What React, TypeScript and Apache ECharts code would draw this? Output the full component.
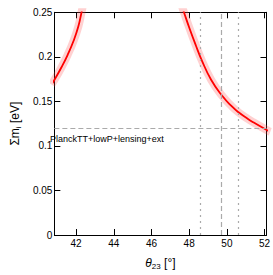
import React, { useEffect, useRef } from "react";
import * as echarts from "echarts";

const xTicks = [42, 44, 46, 48, 50, 52];
const leftTheta = [40.7, 40.85, 41.22, 41.55, 41.87, 42.12, 42.28, 42.4];
const leftSum = [0.169, 0.174, 0.188, 0.202, 0.218, 0.234, 0.249, 0.262];
const rightTheta = [47.6, 47.74, 48.0, 48.35, 48.65, 49.17, 49.76, 50.28, 50.6, 51.1, 51.4, 52.18, 52.3];
const rightSum = [0.258, 0.249, 0.233, 0.213, 0.197, 0.174, 0.156, 0.144, 0.138, 0.1305, 0.1265, 0.117, 0.1158];
const planckLimit = 0.12;
const centralTheta = 49.7;
const rangeTheta = [48.6, 50.6];
const planckLabel = "PlanckTT+lowP+lensing+ext";

const X_MIN = 40.85;
const X_MAX = 52.1;

export default function App() {
  const ref = useRef<HTMLDivElement>(null);
  useEffect(() => {
    const chart = echarts.init(ref.current!, null, { renderer: "svg" });
    const font = "Liberation Sans, Arial, sans-serif";
    const leftData = leftTheta.map((t, i) => [t, leftSum[i]]);
    const rightData = rightTheta.map((t, i) => [t, rightSum[i]]);
    const gray = "#aaaaaa";
    const mkX = (v: number, type: any) => ({
      xAxis: v,
      lineStyle: { color: gray, width: 1.2, type },
    });
    const bandSeries = (data: number[][]) => ({
      type: "line",
      data,
      smooth: true,
      symbol: "none",
      silent: true,
      lineStyle: { color: "rgba(255,70,70,0.25)", width: 8 },
      z: 2,
    });
    const lineSeries = (data: number[][]) => ({
      type: "line",
      data,
      smooth: true,
      symbol: "none",
      silent: true,
      lineStyle: { color: "#ff0000", width: 1.8 },
      z: 3,
    });
    chart.setOption({
      animation: false,
      grid: { left: 35, right: 5.3, top: 12.3, bottom: 28.3 },
      xAxis: [
        {
          type: "value",
          min: X_MIN,
          max: X_MAX,
          name: "{t|θ}{s|23}{n| [°]}",
          nameLocation: "middle",
          nameGap: 21,
          nameTextStyle: {
            rich: {
              t: { fontSize: 12, fontStyle: "italic", fontFamily: font, color: "#000", lineHeight: 14 },
              s: { fontSize: 8, fontFamily: font, color: "#000", verticalAlign: "bottom", lineHeight: 14, padding: [6, 0, 0, 0] },
              n: { fontSize: 12, fontFamily: font, color: "#000", lineHeight: 14 },
            },
          },
          splitLine: { show: false },
          axisLine: { show: true, onZero: false, lineStyle: { color: "#000", width: 1 } },
          axisTick: { show: true, inside: true, length: 6, customValues: xTicks, lineStyle: { color: "#000" } },
          axisLabel: { customValues: xTicks, fontSize: 10, fontFamily: font, color: "#000", margin: 3 },
        },
        {
          type: "value",
          position: "top",
          min: X_MIN,
          max: X_MAX,
          splitLine: { show: false },
          axisLine: { show: true, onZero: false, lineStyle: { color: "#000", width: 1 } },
          axisTick: { show: true, inside: true, length: 6, customValues: xTicks, lineStyle: { color: "#000" } },
          axisLabel: { show: false },
        },
      ],
      yAxis: [
        {
          type: "value",
          min: 0,
          max: 0.25,
          interval: 0.05,
          name: "{a|Σm}{s|i}{a| [eV]}",
          nameLocation: "middle",
          nameGap: 27,
          nameTextStyle: {
            rich: {
              a: { fontSize: 12, fontFamily: font, color: "#000", lineHeight: 14 },
              s: { fontSize: 8, fontFamily: font, color: "#000", verticalAlign: "bottom", lineHeight: 14, padding: [6, 0, 0, 0] },
            },
          },
          splitLine: { show: false },
          axisLine: { show: true, onZero: false, lineStyle: { color: "#000", width: 1 } },
          axisTick: { show: true, inside: true, length: 6, lineStyle: { color: "#000" } },
          axisLabel: { fontSize: 10, fontFamily: font, color: "#000", margin: 2 },
        },
        {
          type: "value",
          position: "right",
          min: 0,
          max: 0.25,
          interval: 0.05,
          splitLine: { show: false },
          axisLine: { show: true, onZero: false, lineStyle: { color: "#000", width: 1 } },
          axisTick: { show: true, inside: true, length: 6, lineStyle: { color: "#000" } },
          axisLabel: { show: false },
        },
      ],
      series: [
        {
          type: "line",
          data: [],
          silent: true,
          markLine: {
            silent: true,
            symbol: "none",
            label: { show: false },
            data: [
              { yAxis: planckLimit, lineStyle: { color: gray, width: 1.2, type: [5, 3] } },
              mkX(centralTheta, [5, 3]),
              mkX(rangeTheta[0], [2, 4]),
              mkX(rangeTheta[1], [2, 4]),
            ],
          },
          z: 1,
        },
        bandSeries(leftData),
        bandSeries(rightData),
        lineSeries(leftData),
        lineSeries(rightData),
      ],
      graphic: [
        {
          type: "text",
          left: 50,
          top: 134,
          style: { text: planckLabel, fontSize: 9, fontFamily: font, fill: "#000" },
        },
      ],
    });
    return () => chart.dispose();
  }, []);
  return <div ref={ref} style={{ width: 273, height: 275, position: "absolute", left: 0, top: 0 }} />;
}
